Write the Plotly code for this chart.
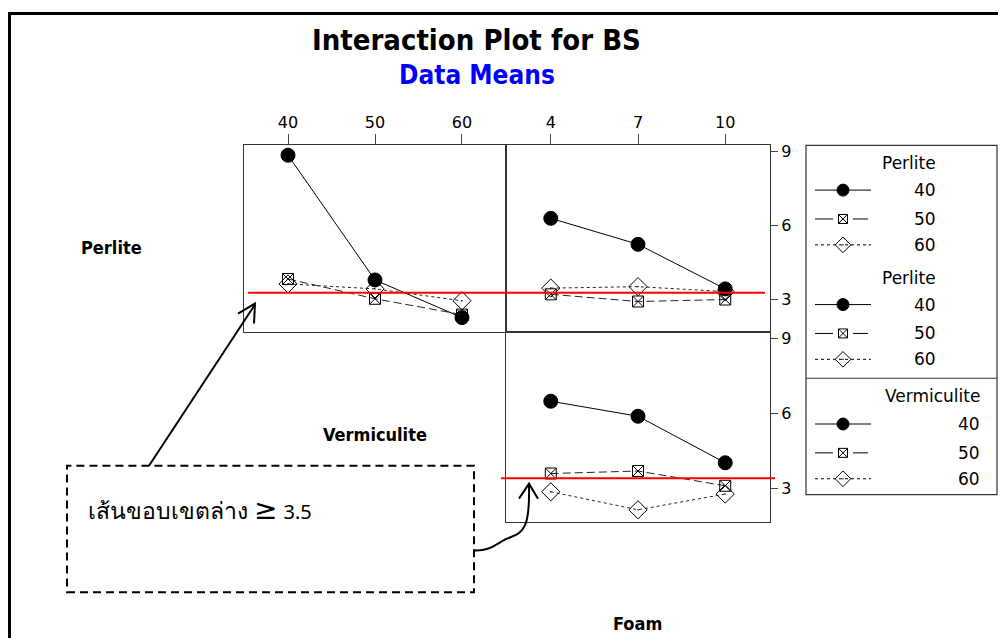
import plotly.graph_objects as go

# ---------------- data ----------------
vermiculite_levels = [40, 50, 60]
foam_levels = [4, 7, 10]
level_names = ["40", "50", "60"]

# Panel 1: BS means vs Vermiculite, one line per Perlite level
perlite_by_verm = {
    "40": [8.84, 3.80, 2.28],
    "50": [3.84, 3.04, 2.40],
    "60": [3.64, 3.44, 2.96],
}
# Panel 2: BS means vs Foam, one line per Perlite level
perlite_by_foam = {
    "40": [6.29, 5.24, 3.44],
    "50": [3.22, 2.93, 3.01],
    "60": [3.47, 3.53, 3.33],
}
# Panel 3: BS means vs Foam, one line per Vermiculite level
verm_by_foam = {
    "40": [6.49, 5.89, 4.03],
    "50": [3.60, 3.70, 3.11],
    "60": [2.87, 2.15, 2.78],
}
# red reference lines (BS value)
red_top = 3.28
red_bottom = 3.41

y_ticks = [3, 6, 9]

# ---------------- layout helpers ----------------
W, H = 998, 638


def px(x):
    return x / W


def py(y):
    return 1 - y / H


FONT = "DejaVu Sans"
BOLD = "DejaVu Sans Condensed, DejaVu Sans"

styles = {
    "40": dict(symbol="circle", size=14, dash="solid", color="black"),
    "50": dict(symbol="square-x-open", size=11, dash="8px,4px", color="#222"),
    "60": dict(symbol="diamond-open-dot", size=14, dash="3px,3px", color="#222"),
}

fig = go.Figure()


def add_series(data, xvals, xa, ya):
    for lvl in level_names:
        st = styles[lvl]
        fig.add_trace(go.Scatter(
            x=xvals, y=data[lvl], mode="lines+markers",
            line=dict(color=st["color"], width=1, dash=st["dash"]),
            marker=dict(symbol=st["symbol"], size=st["size"], color="black",
                        line=dict(color="black", width=1)),
            xaxis=xa, yaxis=ya, showlegend=False, cliponaxis=False))


add_series(perlite_by_verm, vermiculite_levels, "x", "y")
add_series(perlite_by_foam, foam_levels, "x2", "y2")
add_series(verm_by_foam, foam_levels, "x3", "y3")

# ---------------- custom legend (overlay axis in pixel units) ----------------
legend_rows = [
    (188, 217, 243),
    (303, 332, 358),
    (423, 452, 478),
]
lx0, lxm, lx1 = 815, 843, 871
for rows in legend_rows:
    for lvl, yy in zip(level_names, rows):
        st = styles[lvl]
        if lvl == "50":
            xs = [lx0, lxm - 10, None, lxm + 10, lx1 - 3]
            ys = [yy, yy, None, yy, yy]
            dash = "solid"
        else:
            xs = [lx0, lx1]
            ys = [yy, yy]
            dash = st["dash"] if lvl == "60" else "solid"
        fig.add_trace(go.Scatter(x=xs, y=ys, mode="lines",
                                 line=dict(color="black", width=1, dash=dash),
                                 xaxis="x4", yaxis="y4", showlegend=False,
                                 hoverinfo="skip"))
        fig.add_trace(go.Scatter(x=[lxm], y=[yy], mode="markers",
                                 marker=dict(symbol=st["symbol"], size=st["size"] - 2,
                                             color="black", line=dict(color="black", width=1)),
                                 xaxis="x4", yaxis="y4", showlegend=False,
                                 hoverinfo="skip"))

# ---------------- axes ----------------
p1 = (244, 506, 143, 331)
p2 = (506, 770, 143, 331)
p3 = (506, 770, 331, 521)

common = dict(showline=True, mirror=True, linecolor="#333", linewidth=1,
              showgrid=False, zeroline=False)
yr = [1.68, 9.24]

fig.update_layout(
    width=W, height=H,
    margin=dict(l=0, r=0, t=0, b=0),
    paper_bgcolor="white", plot_bgcolor="rgba(0,0,0,0)",
    showlegend=False,
    xaxis=dict(domain=[px(p1[0]), px(p1[1])], range=[34.94, 65.06], side="top",
               tickvals=vermiculite_levels, ticks="outside", ticklen=10,
               tickfont=dict(family=FONT, size=16, color="black"), anchor="y", **common),
    yaxis=dict(domain=[py(p1[3]), py(p1[2])], range=yr, showticklabels=False,
               ticks="", anchor="x", **common),
    xaxis2=dict(domain=[px(p2[0]), px(p2[1])], range=[2.46, 11.54], side="top",
                tickvals=foam_levels, ticks="outside", ticklen=10,
                tickfont=dict(family=FONT, size=16, color="black"), anchor="y2", **common),
    yaxis2=dict(domain=[py(p2[3]), py(p2[2])], range=yr, side="right",
                tickvals=y_ticks, ticks="outside", ticklen=7,
                tickfont=dict(family=FONT, size=16, color="black"), anchor="x2", **common),
    xaxis3=dict(domain=[px(p3[0]), px(p3[1])], range=[2.46, 11.54],
                showticklabels=False, ticks="", anchor="y3", **common),
    yaxis3=dict(domain=[py(p3[3]), py(p3[2])], range=yr, side="right",
                tickvals=y_ticks, ticks="outside", ticklen=7,
                tickfont=dict(family=FONT, size=16, color="black"), anchor="x3", **common),
    xaxis4=dict(domain=[0, 1], range=[0, W], visible=False, anchor="y4"),
    yaxis4=dict(domain=[0, 1], range=[H, 0], visible=False, anchor="x4"),
)

# ---------------- shapes ----------------
shapes = []
# outer frame (left and top)
shapes.append(dict(type="path", xref="paper", yref="paper",
                   path=f"M {px(9.5)},{py(640)} L {px(9.5)},{py(10.5)} L {px(1000)},{py(10.5)}",
                   line=dict(color="black", width=3)))
# red reference lines
shapes.append(dict(type="line", xref="paper", yref="y", x0=px(248), x1=px(765),
                   y0=red_top, y1=red_top, line=dict(color="red", width=2)))
shapes.append(dict(type="line", xref="paper", yref="y3", x0=px(501), x1=px(775),
                   y0=red_bottom, y1=red_bottom, line=dict(color="red", width=2)))
# legend box
shapes.append(dict(type="rect", xref="paper", yref="paper", x0=px(806), x1=px(997),
                   y0=py(494), y1=py(143), line=dict(color="#333", width=1.2)))
shapes.append(dict(type="line", xref="paper", yref="paper", x0=px(806), x1=px(997),
                   y0=py(377), y1=py(377), line=dict(color="#333", width=1.2)))
# dashed callout box
shapes.append(dict(type="rect", xref="paper", yref="paper", x0=px(67), x1=px(474),
                   y0=py(592), y1=py(465), line=dict(color="black", width=2, dash="8px,5px")))
# straight arrow
shapes.append(dict(type="path", xref="paper", yref="paper",
                   path=f"M {px(149)},{py(465)} L {px(255)},{py(303)}",
                   line=dict(color="black", width=2)))
shapes.append(dict(type="path", xref="paper", yref="paper",
                   path=f"M {px(238)},{py(312)} L {px(255)},{py(302)} L {px(254)},{py(322)}",
                   line=dict(color="black", width=2)))
# curved arrow
shapes.append(dict(type="path", xref="paper", yref="paper",
                   path=(f"M {px(474)},{py(550)} C {px(492)},{py(551)} {px(498)},{py(541)} {px(510)},{py(537)} "
                         f"C {px(524)},{py(532)} {px(530)},{py(526)} {px(529)},{py(484)}"),
                   line=dict(color="black", width=2)))
shapes.append(dict(type="path", xref="paper", yref="paper",
                   path=f"M {px(519)},{py(498)} L {px(529)},{py(483)} L {px(538)},{py(498)}",
                   line=dict(color="black", width=2)))
fig.update_layout(shapes=shapes)

# ---------------- text ----------------
ann = []


def text(x, y, s, size, color="black", bold=False, xanchor="center", family=None):
    ann.append(dict(x=px(x), y=py(y), xref="paper", yref="paper", text=s,
                    showarrow=False, xanchor=xanchor, yanchor="middle",
                    font=dict(family=family or (BOLD if bold else FONT), size=size, color=color)))


text(476, 37, "<b>Interaction Plot for BS</b>", 29, bold=True)
text(477, 72, "<b>Data Means</b>", 26, color="#0000ff", bold=True)
text(111, 246, "<b>Perlite</b>", 18, bold=True)
text(375, 434, "<b>Vermiculite</b>", 18, bold=True)
text(637, 623, "<b>Foam</b>", 18, bold=True)

# legend text
text(938, 161, "Perlite", 17, xanchor="right")
text(938, 276, "Perlite", 17, xanchor="right")
text(982, 395, "Vermiculite", 17, xanchor="right")
for rows, xr in zip(legend_rows, [938, 938, 982]):
    for lvl, yy in zip(level_names, rows):
        text(xr, yy, lvl, 17, xanchor="right")

# callout text
ann.append(dict(x=px(86), y=py(507), xref="paper", yref="paper",
                text="เส้นขอบเขตล่าง <span style='font-size:28px'>≥</span> <span style='font-size:20px'>3.5</span>",
                showarrow=False, xanchor="left", yanchor="middle",
                font=dict(family="Noto Sans, DejaVu Sans", size=23, color="black")))

fig.update_layout(annotations=ann)

fig.write_html("out.html")
